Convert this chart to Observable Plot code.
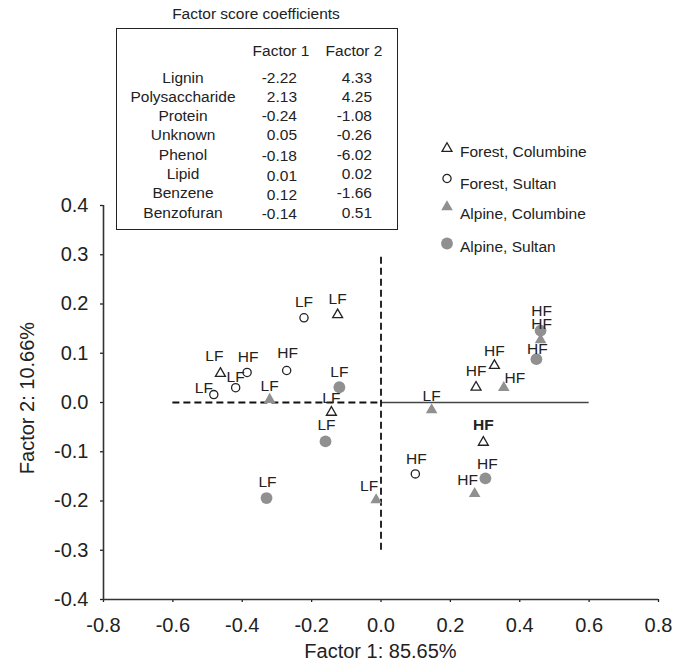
<!DOCTYPE html>
<html><head><meta charset="utf-8">
<script src="https://cdn.jsdelivr.net/npm/d3@7"></script>
<script src="https://cdn.jsdelivr.net/npm/@observablehq/plot@0.6"></script>
<style>
body{margin:0;background:#fff;font-family:"Liberation Sans",Arial,sans-serif;color:#222}
#wrap{position:relative;width:689px;height:669px;overflow:hidden;background:#fff}
.t{position:absolute;white-space:nowrap}
#box{position:absolute;left:116px;top:28px;width:282px;height:202px;border:1.5px solid #222;box-sizing:border-box}
</style></head><body><div id="wrap"><div id="box"></div></div>
<script>
// ---- data ----
const xTicks = [-0.8, -0.6, -0.4, -0.2, 0, 0.2, 0.4, 0.6, 0.8];
const yTicks = [-0.4, -0.3, -0.2, -0.1, 0, 0.1, 0.2, 0.3, 0.4];
const xTitle = "Factor 1: 85.65%";
const yTitle = "Factor 2: 10.66%";

const seriesNames = ["Forest, Columbine", "Forest, Sultan", "Alpine, Columbine", "Alpine, Sultan"];

const forestColumbineX = [-0.463, -0.125, -0.143, 0.274, 0.327, 0.295];
const forestColumbineY = [0.059, 0.178, -0.020, 0.031, 0.075, -0.081];
const forestColumbineL = ["LF", "LF", "LF", "HF", "HF", "HF"];

const forestSultanX = [-0.482, -0.419, -0.386, -0.272, -0.222, 0.099];
const forestSultanY = [0.016, 0.030, 0.061, 0.065, 0.172, -0.145];
const forestSultanL = ["LF", "LF", "HF", "HF", "LF", "HF"];

const alpineColumbineX = [-0.321, -0.014, 0.146, 0.354, 0.460, 0.270];
const alpineColumbineY = [0.006, -0.198, -0.015, 0.030, 0.127, -0.185];
const alpineColumbineL = ["LF", "LF", "LF", "HF", "HF", "HF"];

const alpineSultanX = [-0.120, -0.160, -0.330, 0.448, 0.460, 0.301];
const alpineSultanY = [0.031, -0.079, -0.194, 0.088, 0.146, -0.154];
const alpineSultanL = ["LF", "LF", "LF", "HF", "HF", "HF"];

// factor score coefficient table
const tableTitle = "Factor score coefficients";
const tableHeaders = ["Factor 1", "Factor 2"];
const compounds = ["Lignin", "Polysaccharide", "Protein", "Unknown", "Phenol", "Lipid", "Benzene", "Benzofuran"];
const factor1Coef = ["-2.22", "2.13", "-0.24", "0.05", "-0.18", "0.01", "0.12", "-0.14"];
const factor2Coef = ["4.33", "4.25", "-1.08", "-0.26", "-6.02", "0.02", "-1.66", "0.51"];

// reference guide lines (data space)
const vGuide = [{x: 0, y1: -0.3, y2: 0.3}];
const hGuideDashed = [{y: 0, x1: -0.6, x2: 0}];
const hGuideSolid = [{y: 0, x1: 0, x2: 0.6}];

// ---- styling (label offsets in px) ----
const labelOffsets = {
  fc: {dx: [-6, 0, 0, 0, 0, 0], dy: [-17, -16, -14, -16, -15, -17], bold: [0, 0, 0, 0, 0, 1]},
  fs: {dx: [-10, 0, 1, 1, 0, 1], dy: [-7, -11, -15, -17, -16, -15], bold: [0, 0, 0, 0, 0, 0]},
  ac: {dx: [0, -7, 0, 11, 1, -7], dy: [-14, -14, -14, -10, -16, -14], bold: [0, 0, 0, 0, 0, 0]},
  as: {dx: [0, 1, 1, 1, 1, 2], dy: [-15, -16, -16, -10, -20, -14], bold: [0, 0, 0, 0, 0, 0]}
};
const gray = "#909090";
const ink = "#222";
const groupStyle = {
  fc: {symbol: "triangle", r: 3.7, fill: "white", stroke: ink, strokeWidth: 1.3},
  fs: {symbol: "circle", r: 4.1, fill: "white", stroke: ink, strokeWidth: 1.3},
  ac: {symbol: "triangle", r: 4.3, fill: gray, stroke: "none", strokeWidth: 0},
  as: {symbol: "circle", r: 5.9, fill: gray, stroke: "none", strokeWidth: 0}
};

function build(key, xs, ys, ls) {
  return xs.map((x, i) => ({x, y: ys[i], label: ls[i], key, i}));
}
const groups = {
  fc: build("fc", forestColumbineX, forestColumbineY, forestColumbineL),
  fs: build("fs", forestSultanX, forestSultanY, forestSultanL),
  ac: build("ac", alpineColumbineX, alpineColumbineY, alpineColumbineL),
  as: build("as", alpineSultanX, alpineSultanY, alpineSultanL)
};

const fmt = d => d.toFixed(1);
const dotMarks = ["fc", "fs", "ac", "as"].map(k => Plot.dot(groups[k], {
  x: "x", y: "y", symbol: groupStyle[k].symbol, r: groupStyle[k].r,
  fill: groupStyle[k].fill, stroke: groupStyle[k].stroke, strokeWidth: groupStyle[k].strokeWidth
}));
const labelMarks = [];
for (const k of ["fc", "fs", "ac", "as"]) {
  for (const p of groups[k]) {
    const o = labelOffsets[k];
    labelMarks.push(Plot.text([p], {
      x: "x", y: "y", text: "label", dx: o.dx[p.i], dy: o.dy[p.i],
      fontSize: 15.5, fill: ink, fontWeight: o.bold[p.i] ? "bold" : "normal"
    }));
  }
}

const chart = Plot.plot({
  width: 689, height: 669,
  marginLeft: 103, marginRight: 31, marginTop: 205, marginBottom: 70,
  x: {domain: [-0.8, 0.8]},
  y: {domain: [-0.4, 0.4]},
  style: {fontFamily: "'Liberation Sans', Arial, sans-serif", fontSize: "20px", color: ink, background: "transparent"},
  marks: [
    Plot.axisX({ticks: xTicks, tickSize: 3, tickPadding: 15, tickFormat: fmt, label: null, strokeWidth: 1.3}),
    Plot.axisY({ticks: yTicks, tickSize: 3, tickPadding: 12, tickFormat: fmt, label: null, strokeWidth: 1.3}),
    Plot.ruleX([xTicks[0]], {stroke: "#333", strokeWidth: 1.6}),
    Plot.ruleY([yTicks[0]], {stroke: "#333", strokeWidth: 1.6}),
    Plot.ruleY(hGuideSolid, {y: "y", x1: "x1", x2: "x2", stroke: "#444", strokeWidth: 1.6}),
    Plot.ruleY(hGuideDashed, {y: "y", x1: "x1", x2: "x2", stroke: "#111", strokeWidth: 1.8, strokeDasharray: "7,4"}),
    Plot.ruleX(vGuide, {x: "x", y1: "y1", y2: "y2", stroke: "#111", strokeWidth: 1.8, strokeDasharray: "7,4"}),
    ...dotMarks,
    ...labelMarks
  ]
});
chart.style.position = "absolute";
chart.style.left = "0px";
chart.style.top = "0px";
const wrap = document.getElementById("wrap");
wrap.insertBefore(chart, wrap.firstChild);

// ---- html text helpers ----
function put(text, x, y, size, anchor, extra) {
  const d = document.createElement("div");
  d.className = "t";
  d.textContent = text;
  const lh = Math.round(size * 1.2);
  d.style.fontSize = size + "px";
  d.style.lineHeight = lh + "px";
  d.style.top = (y - lh / 2) + "px";
  if (anchor === "middle") { d.style.left = (x - 150) + "px"; d.style.width = "300px"; d.style.textAlign = "center"; }
  else if (anchor === "end") { d.style.left = (x - 300) + "px"; d.style.width = "300px"; d.style.textAlign = "right"; }
  else { d.style.left = x + "px"; }
  if (extra) Object.assign(d.style, extra);
  wrap.appendChild(d);
  return d;
}

// axis titles
put(xTitle, 380.5, 651, 20, "middle");
put(yTitle, 27, 398, 20, "middle", {transform: "rotate(-90deg)", transformOrigin: "50% 50%"});

// table
put(tableTitle, 256, 13, 15.5, "middle");
put(tableHeaders[0], 281, 50, 15.5, "middle");
put(tableHeaders[1], 354, 50, 15.5, "middle");
compounds.forEach((c, i) => {
  const y = 77 + i * 19.3;
  put(c, 183, y, 15.5, "middle");
  put(factor1Coef[i], 297, y + (i >= 4 ? 1.5 : 0), 15.5, "end");
  put(factor2Coef[i], 372, y, 15.5, "end");
});

// legend
const legendKeys = ["fc", "fs", "ac", "as"];
const legSymY = [148.5, 178.5, 207, 243.5];
const legTextY = [151.5, 183, 213, 246];
const lsvg = d3.select(wrap).append("svg")
  .attr("width", 689).attr("height", 669)
  .style("position", "absolute").style("left", 0).style("top", 0);
legendKeys.forEach((k, i) => {
  const st = groupStyle[k];
  const sym = st.symbol === "triangle" ? d3.symbolTriangle : d3.symbolCircle;
  lsvg.append("path")
    .attr("d", d3.symbol(sym, Math.PI * st.r * st.r)())
    .attr("transform", `translate(447,${legSymY[i]})`)
    .attr("fill", st.fill).attr("stroke", st.stroke).attr("stroke-width", st.strokeWidth);
  put(seriesNames[i], 460, legTextY[i], 15.5, "start");
});
</script>
</body></html>
